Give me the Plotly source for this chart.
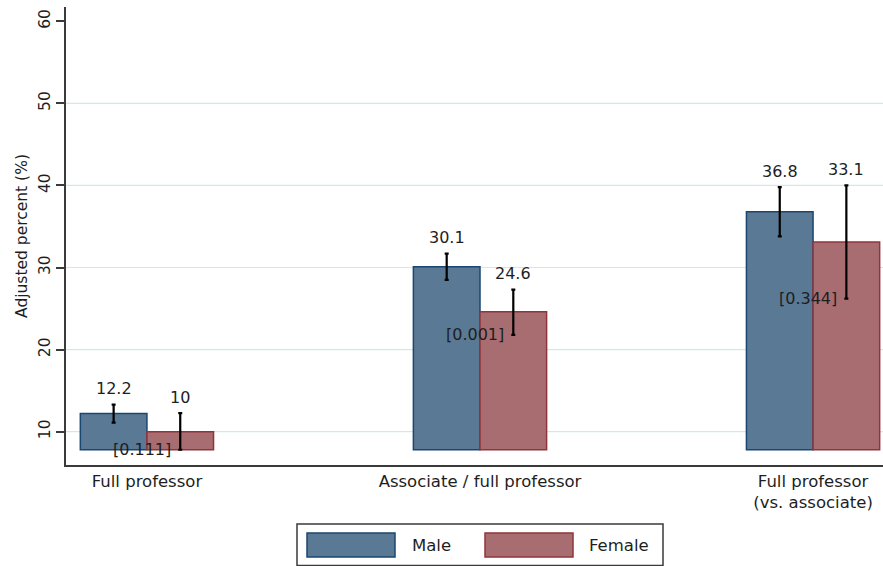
import plotly.graph_objects as go

# ---- data -------------------------------------------------------------
groups = ["Full professor", "Associate / full professor", "Full professor<br>(vs. associate)"]
male = [12.2, 30.1, 36.8]
male_lo = [11.1, 28.5, 33.8]
male_hi = [13.3, 31.7, 39.8]
female = [10.0, 24.6, 33.1]
female_lo = [7.8, 21.8, 26.2]
female_hi = [12.25, 27.3, 40.0]
p_values = ["0.111", "0.001", "0.344"]
bar_floor = 7.8
y_ticks = [10, 20, 30, 40, 50, 60]
grid_vals = [10, 20, 30, 40, 50]

# ---- styling ----------------------------------------------------------
FONT = "DejaVu Sans"
TXT = "#1e1e1e"
MALE_FILL, MALE_LINE = "rgb(90,121,148)", "rgb(26,71,111)"
FEM_FILL, FEM_LINE = "rgb(168,109,113)", "rgb(144,53,59)"
GRID = "rgb(212,230,236)"
AXIS = "#3a3a3a"

W, H = 883, 566
M_L, M_R, M_T, M_B = 66, 0, 7, 101
PW, PH = W - M_L - M_R, H - M_T - M_B
BAR_W = 0.2  # each bar's width in category units (bargap 0.6, two series)


def px_x(px):
    return (px - M_L) / PW


def px_y(py):
    return (H - M_B - py) / PH


xs = list(range(len(groups)))

fig = go.Figure()
for name, vals, lo, hi, fill, line in [
    ("Male", male, male_lo, male_hi, MALE_FILL, MALE_LINE),
    ("Female", female, female_lo, female_hi, FEM_FILL, FEM_LINE),
]:
    fig.add_trace(go.Bar(
        name=name, x=xs,
        y=[v - bar_floor for v in vals], base=bar_floor,
        marker=dict(color=fill, line=dict(color=line, width=1.5)),
        error_y=dict(type="data", symmetric=False,
                     array=[h - v for h, v in zip(hi, vals)],
                     arrayminus=[v - l for v, l in zip(vals, lo)],
                     color="black", thickness=2.2, width=2),
        showlegend=False,
    ))

annotations = []
# value labels above the upper confidence limit
for off, vals, hi in [(-BAR_W / 2, male, male_hi), (BAR_W / 2, female, female_hi)]:
    for i, (v, h) in enumerate(zip(vals, hi)):
        annotations.append(dict(x=i + off, y=h, text=f"{v:g}", showarrow=False,
                                yanchor="middle", yshift=16,
                                font=dict(family=FONT, size=16, color=TXT)))
# p-values for the male/female difference, at the female lower limit
for i, (p, l) in enumerate(zip(p_values, female_lo)):
    annotations.append(dict(x=i, y=l, text=f"[{p}]", showarrow=False,
                            yanchor="middle", xshift=-5,
                            font=dict(family=FONT, size=16, color=TXT)))

# legend box drawn as a key below the chart
shapes = []
shapes.append(dict(type="rect", xref="paper", yref="paper",
                   x0=px_x(297), x1=px_x(663), y0=px_y(524), y1=px_y(565.5),
                   line=dict(color=AXIS, width=1.5), fillcolor="white"))
for name, fill, line, sx0, tx in [("Male", MALE_FILL, MALE_LINE, 307, 410),
                                  ("Female", FEM_FILL, FEM_LINE, 485, 587)]:
    shapes.append(dict(type="rect", xref="paper", yref="paper",
                       x0=px_x(sx0), x1=px_x(sx0 + 88), y0=px_y(533), y1=px_y(557),
                       line=dict(color=line, width=1.5), fillcolor=fill))
    annotations.append(dict(xref="paper", yref="paper", x=px_x(tx), y=px_y(545),
                            text=name, showarrow=False, xanchor="left", yanchor="middle",
                            font=dict(family=FONT, size=16.5, color=TXT)))

# horizontal grid (none at the top tick)
for g in grid_vals:
    shapes.append(dict(type="line", xref="paper", yref="y", x0=0, x1=1, y0=g, y1=g,
                       line=dict(color=GRID, width=1.2), layer="below"))

fig.update_layout(
    width=W, height=H,
    margin=dict(l=M_L, r=M_R, t=M_T, b=M_B, autoexpand=False),
    paper_bgcolor="white", plot_bgcolor="white",
    barmode="group", bargap=0.6, bargroupgap=0,
    font=dict(family=FONT, color=TXT),
    annotations=annotations, shapes=shapes,
    xaxis=dict(range=[-0.243, 2.21], tickmode="array", tickvals=xs, ticktext=groups,
               showgrid=False, zeroline=False, showline=True, linecolor=AXIS,
               linewidth=2, ticks="", tickfont=dict(family=FONT, size=16.5, color=TXT)),
    yaxis=dict(range=[5.94, 61.74], tickmode="array", tickvals=y_ticks,
               showgrid=False, zeroline=False, showline=True, linecolor=AXIS,
               linewidth=2, ticks="outside", ticklen=8, tickwidth=1.5, tickcolor=AXIS,
               tickangle=-90, tickfont=dict(family=FONT, size=15.5, color=TXT),
               title=dict(text="Adjusted percent (%)",
                          font=dict(family=FONT, size=15.5, color=TXT), standoff=4)),
)

fig.write_html("out.html")
